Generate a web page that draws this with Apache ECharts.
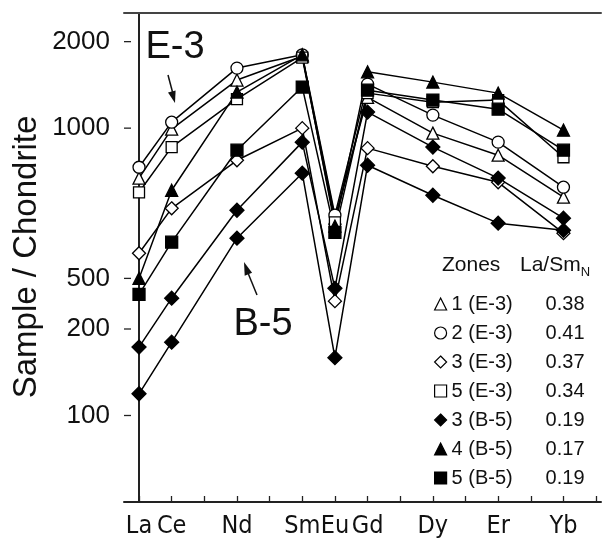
<!DOCTYPE html>
<html><head><meta charset="utf-8">
<script src="https://cdn.jsdelivr.net/npm/echarts@6/dist/echarts.min.js"></script>
<style>html,body{margin:0;padding:0;background:#fff}#c{width:611px;height:542px}</style>
</head><body><div id="c"></div>
<script>
// ---- data ----
const elements = ['La','Ce','Pr','Nd','Pm','Sm','Eu','Gd','Tb','Dy','Ho','Er','Tm','Yb','Lu'];
const labeledElements = ['La','Ce','Nd','Sm','Eu','Gd','Dy','Er','Yb'];
const yTickValues = [100, 200, 300, 1000, 2000];
const yTickLabels = ['100', '200', '500', '1000', '2000'];
const zoneNames = ['1 (E-3)', '2 (E-3)', '3 (E-3)', '5 (E-3)', '3 (B-5)', '4 (B-5)', '5 (B-5)'];
const zoneRatios = ['0.38', '0.41', '0.37', '0.34', '0.19', '0.17', '0.19'];
//                 La   Ce   Pr   Nd   Pm   Sm   Eu   Gd   Tb   Dy   Ho   Er   Tm   Yb   Lu
const zone1E3  = [670, 992, null,1470,null,1780, 486,1280,null, 961,null, 805,null, 575,null];
const zone2E3  = [731,1049, null,1618,null,1800, 498,1423,null,1110,null, 894,null, 623,null];
const zone3E3  = [367, 526, null, 773,null,1000, 250, 852,null, 737,null, 648,null, 431,null];
const zone5E3  = [598, 859, null,1262,null,1760, 470,1324,null,1231,null,1252,null, 792,null];
const zone3B5a = [173, 256, null, 518,null, 894, 277,1137,null, 859,null, 670,null, 486,null];
const zone3B5b = [119, 180, null, 414,null, 697, 159, 743,null, 584,null, 467,null, 441,null];
const zone4B5  = [300, 608, null,1335,null,1800, 456,1570,null,1446,null,1324,null, 984,null];
const zone5B5  = [264, 401, null, 838,null,1390, 434,1356,null,1252,null,1164,null, 838,null];

// ---- styling ----
const FONT = "'Liberation Sans', Arial, Helvetica, sans-serif";
const NARROW = "'Liberation Sans Narrow', 'DejaVu Sans Condensed', 'Liberation Sans', Arial, sans-serif";
const seriesDefs = [
  {name: zoneNames[0], values: zone1E3,  symbol: 'triangle', size: 12, filled: false},
  {name: zoneNames[1], values: zone2E3,  symbol: 'circle',   size: 12, filled: false},
  {name: zoneNames[2], values: zone3E3,  symbol: 'diamond',  size: 13, filled: false},
  {name: zoneNames[3], values: zone5E3,  symbol: 'rect',     size: 11, filled: false},
  {name: zoneNames[4], values: zone3B5a, symbol: 'diamond',  size: 14, filled: true},
  {name: zoneNames[4], values: zone3B5b, symbol: 'diamond',  size: 14, filled: true},
  {name: zoneNames[5], values: zone4B5,  symbol: 'triangle', size: 12, filled: true},
  {name: zoneNames[6], values: zone5B5,  symbol: 'rect',     size: 12, filled: true}
];
const legendIcons = ['triangle','circle','diamond','rect','diamond','triangle','rect'];
const legendFilled = [false,false,false,false,true,true,true];

function toPairs(vals) {
  const out = [];
  vals.forEach((v, i) => { if (v != null) out.push([i, v]); });
  return out;
}
const xMin = -0.46, xMax = 14.15;
const chart = echarts.init(document.getElementById('c'), null, {renderer: 'canvas'});
const option = {
  animation: false,
  backgroundColor: '#fff',
  grid: {left: 124, top: 13, right: 10, bottom: 40},
  xAxis: [{
    type: 'value', min: xMin, max: xMax,
    axisLine: {show: true, onZero: false, lineStyle: {color: '#222', width: 2}},
    axisTick: {show: true, inside: true, length: 6, lineStyle: {color: '#222', width: 1.3},
      customValues: elements.map((e, i) => i)},
    axisLabel: {show: true, margin: 12, color: '#111', fontSize: 25, fontFamily: NARROW,
      customValues: labeledElements.map(e => elements.indexOf(e)),
      formatter: v => elements[Math.round(v)] || ''},
    splitLine: {show: false}
  }, {
    type: 'value', position: 'top', min: xMin, max: xMax,
    axisLine: {show: true, onZero: false, lineStyle: {color: '#444', width: 2}},
    axisTick: {show: false}, axisLabel: {show: false}, splitLine: {show: false}
  }],
  yAxis: {
    type: 'log', logBase: 10, min: 50, max: 2516,
    axisLine: {show: true, lineStyle: {color: '#222', width: 2}},
    axisTick: {show: false}, axisLabel: {show: false}, splitLine: {show: false}, minorTick: {show: false}
  },
  legend: {
    orient: 'vertical', left: 429, top: 289, itemWidth: 12, itemHeight: 12, itemGap: 9,
    selectedMode: false,
    data: zoneNames.map((n, i) => ({
      name: n, icon: legendIcons[i],
      itemStyle: {color: legendFilled[i] ? '#000' : '#fff', borderColor: '#000', borderWidth: 1.2}
    })),
    formatter: name => '{a|' + name + '}{b|' + zoneRatios[zoneNames.indexOf(name)] + '}',
    textStyle: {color: '#111', fontFamily: FONT, fontSize: 20,
      rich: {a: {width: 94, fontSize: 20, lineHeight: 20, fontFamily: FONT, color: '#111'},
             b: {fontSize: 20, lineHeight: 20, fontFamily: FONT, color: '#111'}}}
  },
  series: seriesDefs.map(s => ({
    type: 'line', name: s.name, data: toPairs(s.values),
    symbol: s.symbol, symbolSize: s.size, showAllSymbol: true,
    lineStyle: {color: '#000', width: 1.5},
    itemStyle: {color: s.filled ? '#000' : '#fff', borderColor: '#000', borderWidth: 1.3},
    emphasis: {disabled: true}
  }))
};
chart.setOption(option);

// y-axis ticks and labels placed through the log scale
const leftX = chart.convertToPixel({xAxisIndex: 0}, xMin);
const graphics = [];
yTickValues.forEach((v, i) => {
  const y = chart.convertToPixel({yAxisIndex: 0}, v);
  graphics.push({type: 'line', shape: {x1: leftX, y1: y, x2: leftX + 7, y2: y},
    style: {stroke: '#222', lineWidth: 1.3}});
  graphics.push({type: 'text', x: 110, y: y,
    style: {text: yTickLabels[i], font: '26px ' + FONT, fill: '#111', textAlign: 'right', textVerticalAlign: 'middle'}});
});
// axis title
graphics.push({type: 'text', x: 27, y: 257, rotation: Math.PI / 2,
  style: {text: 'Sample / Chondrite', font: '33px ' + FONT, fill: '#111', textAlign: 'center', textVerticalAlign: 'middle'}});
// legend header
graphics.push({type: 'text', left: 442, top: 255,
  style: {text: '{z|Zones}{h|La/Sm}{s|N}', rich: {
    z: {width: 78, fontSize: 21, lineHeight: 26, fontFamily: FONT, fill: '#111'},
    h: {fontSize: 21, lineHeight: 26, fontFamily: FONT, fill: '#111'},
    s: {fontSize: 13, lineHeight: 13, verticalAlign: 'bottom', fontFamily: FONT, fill: '#111'}}}});
// group annotations
graphics.push({type: 'text', x: 175, y: 48,
  style: {text: 'E-3', font: '38px ' + FONT, fill: '#111', textAlign: 'center', textVerticalAlign: 'middle'}});
graphics.push({type: 'text', x: 263, y: 325,
  style: {text: 'B-5', font: '38px ' + FONT, fill: '#111', textAlign: 'center', textVerticalAlign: 'middle'}});
// arrows
graphics.push({type: 'line', shape: {x1: 168, y1: 75, x2: 172.5, y2: 92}, style: {stroke: '#111', lineWidth: 1.5}});
graphics.push({type: 'polygon', shape: {points: [[175, 103], [175.6, 90.4], [168, 92.6]]}, style: {fill: '#111'}});
graphics.push({type: 'line', shape: {x1: 257, y1: 295, x2: 248.4, y2: 274}, style: {stroke: '#111', lineWidth: 1.5}});
graphics.push({type: 'polygon', shape: {points: [[244, 262], [252.1, 272.7], [244.7, 275.7]]}, style: {fill: '#111'}});
chart.setOption({graphic: graphics});
</script></body></html>
